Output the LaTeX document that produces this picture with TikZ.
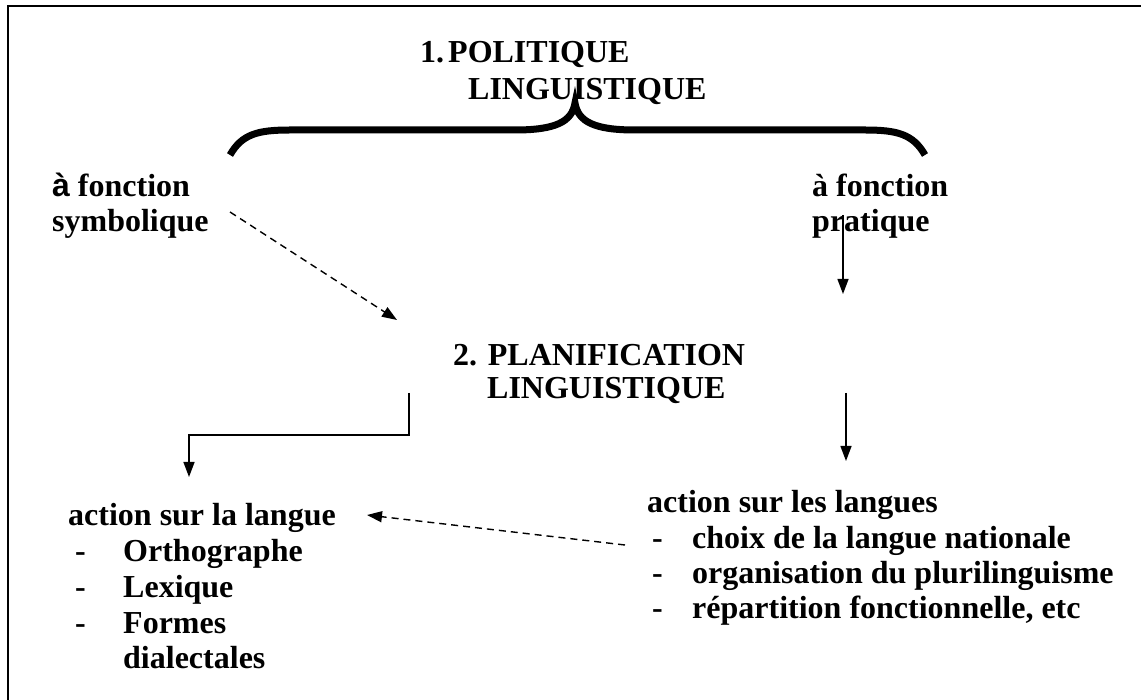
\documentclass[tikz,border=0pt]{standalone}
\usepackage{fontspec}
\setmainfont{Liberation Serif}
\newfontfamily\sansf{Liberation Sans}
\usetikzlibrary{arrows.meta}
\begin{document}
\begin{tikzpicture}[x=1pt,y=-1pt,
  txt/.style={inner sep=0pt,anchor=base west,font=\fontsize{32}{36}\selectfont\bfseries},
  conn/.style={line width=1.4pt,-{Triangle[length=15pt,width=11pt]}},
  dconn/.style={conn,dash pattern=on 7pt off 5pt},
  bracepath/.style={line width=7pt}]
\useasboundingbox (0,0) rectangle (1141,700);
\draw[line width=2pt] (8,710) -- (8,6) -- (1150,6);
% titles
\node[txt] (t1a) at (420,63) {1.\hspace{4pt}POLITIQUE};
\node[txt] (t1b) at (468,100) {LINGUISTIQUE};
% brace
\coordinate (bl) at (230,155);
\coordinate (bt) at (575,103);
\coordinate (br) at (925,155);
\draw[bracepath] (bl) .. controls (242,134) and (258,130) .. (290,130) -- (515,130)
   .. controls (555,130) and (572,122) .. (bt)
   .. controls (578,122) and (595,130) .. (635,130) -- (865,130)
   .. controls (897,130) and (913,134) .. (br);
% upper left/right labels
\node[txt] (sa) at (52,197) {{\sansf à} fonction};
\node[txt] (sb) at (52,232) {symbolique};
\node[txt] (pa) at (812,197) {à fonction};
\node[txt] (pb) at (812,232) {pratique};
% planification
\node[txt] (p2a) at (453,366) {2. PLANIFICATION};
\node[txt] (p2b) at (487,399) {LINGUISTIQUE};
% left list
\node[txt] (la) at (68,525) {action sur la langue};
\node[txt] (l1d) at (75,561) {-};
\node[txt] (l1) at (123,561) {Orthographe};
\node[txt] (l2d) at (75,597) {-};
\node[txt] (l2) at (123,597) {Lexique};
\node[txt] (l3d) at (75,633) {-};
\node[txt] (l3) at (123,633) {Formes};
\node[txt] (l4) at (123,668) {dialectales};
% right list
\node[txt] (ra) at (647,512) {action sur les langues};
\node[txt] (r1d) at (652,548) {-};
\node[txt] (r1) at (692,548) {choix de la langue nationale};
\node[txt] (r2d) at (652,583) {-};
\node[txt] (r2) at (692,583) {organisation du plurilinguisme};
\node[txt] (r3d) at (652,618) {-};
\node[txt] (r3) at (692,618) {répartition fonctionnelle, etc};
% connector endpoints
\coordinate (s1) at (230,212);
\coordinate (e1) at (397,320);
\coordinate (s2) at (843,215);
\coordinate (e2) at (843,294);
\coordinate (s3) at (846,393);
\coordinate (e3) at (846,461);
\coordinate (s4) at (409,393);
\coordinate (e4) at (189,477);
\coordinate (s5) at (625,545);
\coordinate (e5) at (367,515);
\draw[dconn] (s1) -- (e1);
\draw[conn] (s2) -- (e2);
\draw[conn] (s3) -- (e3);
\draw[conn] (s4) -- (409,435) -- (189,435) -- (e4);
\draw[dconn] (s5) -- (e5);
\end{tikzpicture}
\end{document}
